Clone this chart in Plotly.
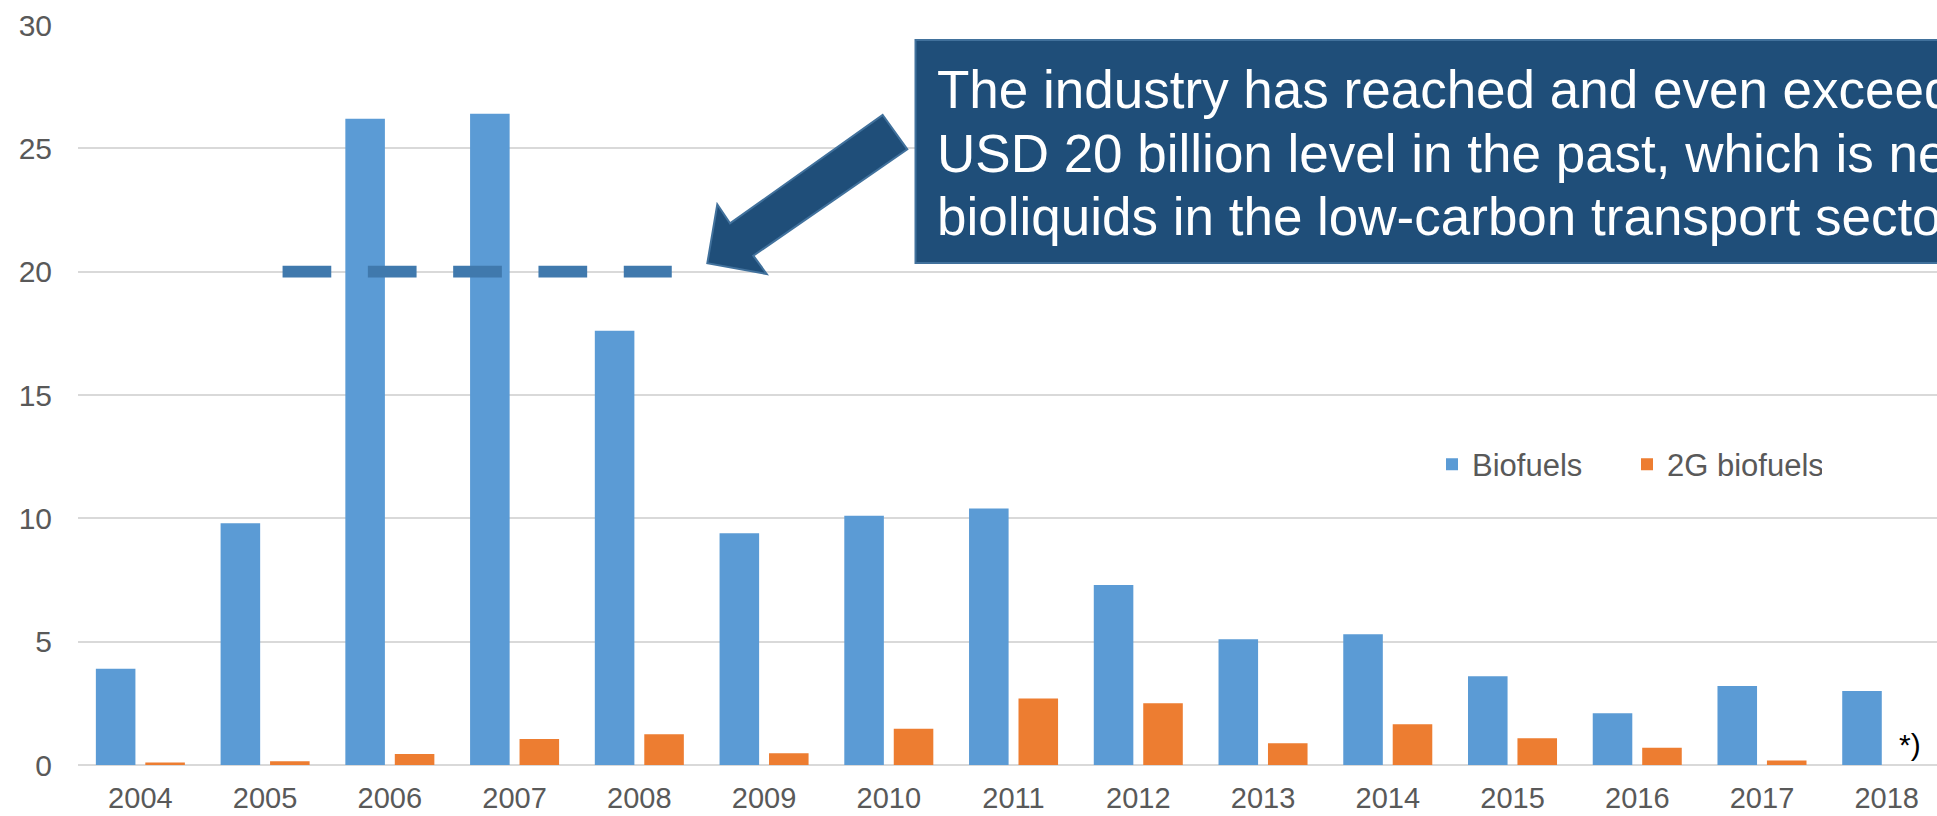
import plotly.graph_objects as go

# Investment by year, USD billion
years = [2004, 2005, 2006, 2007, 2008, 2009, 2010, 2011, 2012, 2013, 2014, 2015, 2016, 2017, 2018]
biofuels = [3.9, 9.8, 26.2, 26.4, 17.6, 9.4, 10.1, 10.4, 7.3, 5.1, 5.3, 3.6, 2.1, 3.2, 3.0]
biofuels_2g = [0.1, 0.15, 0.45, 1.05, 1.25, 0.48, 1.47, 2.7, 2.5, 0.88, 1.65, 1.08, 0.7, 0.18, None]
y_ticks = [0, 5, 10, 15, 20, 25, 30]
level_usd_bn = 20
level_years = [2005.14, 2008.26]

callout_lines = [
    "The industry has reached and even exceeded the",
    "USD 20 billion level in the past, which is needed for",
    "bioliquids in the low-carbon transport sector.",
]
footnote = "*)"

W, H = 1937, 816
L, R, T, B = 78, 0, 25, 51
FONT = "Liberation Sans, Arial, sans-serif"
GREY = "#595959"


def paper_x(px):
    return (px - L) / (W - L - R)


def paper_y(py):
    return (H - B - py) / (H - T - B)


fig = go.Figure()
fig.add_bar(x=years, y=biofuels, name="Biofuels", marker_color="#5B9BD5")
fig.add_bar(x=years, y=biofuels_2g, name="2G biofuels", marker_color="#ED7D31")

cat_px = 124.74
x_hi = years[0] - 0.5 + (W - L - R) / cat_px

# dashed reference level
fig.add_shape(type="line", xref="x", yref="y",
              x0=level_years[0], x1=level_years[1], y0=level_usd_bn, y1=level_usd_bn,
              line=dict(color="#4079AD", width=11.6, dash="48.7px,36.6px"),
              layer="above")

# block arrow pointing at the level
arrow_pts = [(882.7, 115), (907.3, 149.3), (753.3, 255.7), (766.7, 274),
             (707.3, 263.3), (717.3, 204.3), (730, 223.3)]
path = "M " + " L ".join(f"{paper_x(a):.5f},{paper_y(b):.5f}" for a, b in arrow_pts) + " Z"
fig.add_shape(type="path", xref="paper", yref="paper", path=path,
              fillcolor="#1F4E79", line=dict(color="#41719C", width=2), layer="above")

# callout box
fig.add_shape(type="rect", xref="paper", yref="paper",
              x0=paper_x(915.5), x1=paper_x(1980), y0=paper_y(263), y1=paper_y(40),
              fillcolor="#1F4E79", line=dict(color="#41719C", width=2), layer="above")

line_centres = [89.9, 153.3, 216.6]
for txt, cy in zip(callout_lines, line_centres):
    fig.add_annotation(text=txt, xref="paper", yref="paper",
                       x=paper_x(935), y=paper_y(cy), xanchor="left", yanchor="middle",
                       showarrow=False, font=dict(family=FONT, size=53, color="white"))

fig.add_annotation(text=footnote, xref="paper", yref="paper",
                   x=paper_x(1910), y=paper_y(744), xanchor="center", yanchor="middle",
                   showarrow=False, font=dict(family=FONT, size=30, color="black"))

fig.update_layout(
    width=W, height=H,
    margin=dict(l=L, r=R, t=T, b=B, pad=0),
    template="none",
    paper_bgcolor="white", plot_bgcolor="white",
    barmode="group", bargap=0.207, bargroupgap=0.2,
    font=dict(family=FONT, size=30, color=GREY),
    showlegend=True,
    legend=dict(orientation="h", x=paper_x(1432), y=paper_y(464.5),
                xanchor="left", yanchor="middle", bgcolor="rgba(0,0,0,0)",
                font=dict(family=FONT, size=31, color=GREY), traceorder="normal",
                entrywidth=150, borderwidth=0),
    xaxis=dict(range=[years[0] - 0.5, x_hi], tickvals=years, ticktext=[str(y) for y in years],
               showgrid=False, zeroline=False, showline=False, ticks="",
               tickfont=dict(family=FONT, size=29, color=GREY),
               ticklabelstandoff=13, automargin=False, fixedrange=True),
    yaxis=dict(range=[0, 30], tickvals=y_ticks, showgrid=True, gridcolor="#D9D9D9",
               gridwidth=2, zeroline=True, zerolinecolor="#D9D9D9", zerolinewidth=2,
               showline=False, ticks="", tickfont=dict(family=FONT, size=30, color=GREY),
               ticklabelstandoff=25, automargin=False, fixedrange=True),
)

fig.write_html("out.html")
